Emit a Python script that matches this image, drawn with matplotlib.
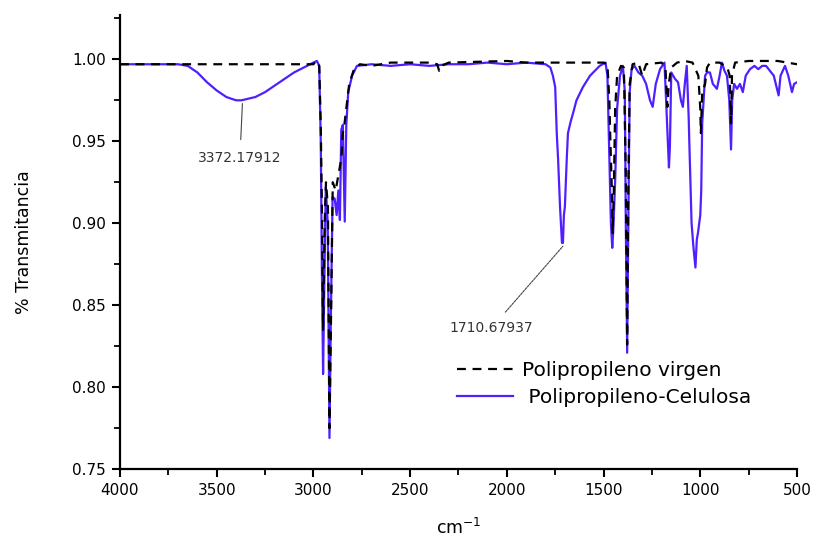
import matplotlib
matplotlib.use('Agg')
import matplotlib.pyplot as plt
from matplotlib.ticker import MultipleLocator, FormatStrFormatter

# Polipropileno-Celulosa (linea azul): numero de onda, transmitancia
wn_pc = [4000, 3700, 3650, 3600, 3550, 3500, 3450, 3400, 3372, 3300, 3250, 3200,
         3150, 3100, 3050, 3000, 2982, 2970, 2962, 2956, 2950, 2944, 2936, 2926,
         2917, 2910, 2901, 2890, 2880, 2871, 2863, 2856, 2848, 2838, 2830, 2820,
         2800, 2775, 2700, 2600, 2500, 2400, 2300, 2200, 2100, 2000, 1900, 1800,
         1775, 1762, 1750, 1742, 1735, 1725, 1715, 1710, 1705, 1700, 1690, 1684,
         1670, 1658, 1640, 1607, 1570, 1520, 1490, 1480, 1470, 1462, 1455, 1450,
         1440, 1430, 1415, 1400, 1390, 1385, 1378, 1372, 1365, 1355, 1340, 1320,
         1300, 1280, 1260, 1246, 1230, 1208, 1185, 1175, 1168, 1162, 1157, 1150,
         1130, 1115, 1100, 1090, 1080, 1070, 1060, 1057, 1045, 1035, 1025, 1018,
         1012, 1000, 995, 990, 975, 965, 950, 935, 914, 900, 888, 875, 862, 850,
         841, 835, 825, 810, 795, 780, 765, 743, 720, 700, 680, 660, 640, 620,
         603, 595, 585, 562, 545, 526, 515, 500]
t_pc = [0.997, 0.997, 0.996, 0.992, 0.986, 0.981, 0.977, 0.975, 0.975, 0.977, 0.980, 0.984,
        0.988, 0.992, 0.995, 0.998, 0.999, 0.996, 0.950, 0.870, 0.808, 0.860, 0.922, 0.900,
        0.769, 0.840, 0.916, 0.915, 0.905, 0.920, 0.902, 0.957, 0.960, 0.901, 0.960, 0.980,
        0.990, 0.996, 0.997, 0.996, 0.997, 0.996, 0.997, 0.997, 0.998, 0.997, 0.998, 0.997,
        0.995, 0.990, 0.983, 0.955, 0.939, 0.910, 0.888, 0.888, 0.905, 0.910, 0.940, 0.955,
        0.962, 0.967, 0.975, 0.983, 0.990, 0.996, 0.998, 0.990, 0.940, 0.900, 0.885, 0.895,
        0.926, 0.970, 0.990, 0.996, 0.980, 0.900, 0.821, 0.900, 0.980, 0.994, 0.996, 0.992,
        0.990, 0.985, 0.975, 0.971, 0.985, 0.994, 0.998, 0.970, 0.951, 0.934, 0.947, 0.992,
        0.988, 0.986, 0.975, 0.971, 0.985, 0.996, 0.965, 0.951, 0.900, 0.885, 0.873, 0.890,
        0.894, 0.905, 0.920, 0.961, 0.990, 0.992, 0.992, 0.985, 0.982, 0.990, 0.998, 0.993, 0.990, 0.975,
        0.945, 0.975, 0.985, 0.982, 0.985, 0.980, 0.990, 0.994, 0.996, 0.994, 0.996, 0.996, 0.993, 0.990,
        0.982, 0.978, 0.990, 0.996, 0.990, 0.980, 0.985, 0.986]

# Polipropileno virgen (linea negra discontinua)
wn_pp = [4000, 3000, 2985, 2970, 2962, 2955, 2950, 2942, 2935, 2925, 2917, 2908,
         2900, 2885, 2870, 2855, 2848, 2840, 2830, 2815, 2790, 2760, 2700, 2600,
         2400, 2360, 2350, 2340, 2300, 2000, 1900, 1500, 1480, 1470, 1465, 1457,
         1453, 1447, 1440, 1430, 1410, 1395, 1385, 1378, 1372, 1365, 1350, 1320,
         1300, 1280, 1200, 1180, 1170, 1163, 1150, 1120, 1080, 1040, 1010, 1000,
         997, 990, 975, 965, 950, 900, 860, 848, 841, 836, 820, 750, 600, 550, 500]
t_pp = [0.997, 0.997, 0.999, 0.996, 0.960, 0.900, 0.835, 0.900, 0.925, 0.910, 0.775, 0.850,
        0.925, 0.920, 0.930, 0.940, 0.955, 0.960, 0.970, 0.985, 0.994, 0.997, 0.996, 0.998,
        0.998, 0.997, 0.993, 0.996, 0.998, 0.999, 0.998, 0.998, 0.997, 0.975, 0.951, 0.920,
        0.894, 0.920, 0.970, 0.990, 0.996, 0.995, 0.930, 0.826, 0.920, 0.985, 0.997, 0.998,
        0.990, 0.997, 0.998, 0.995, 0.971, 0.985, 0.995, 0.998, 0.999, 0.998, 0.990, 0.970,
        0.955, 0.980, 0.985, 0.995, 0.998, 0.998, 0.995, 0.990, 0.961, 0.990, 0.998, 0.999, 0.999, 0.998, 0.997]

# picos anotados: (posicion del pico, texto)
pico_oh = (3372, 0.975, '3372.17912')
pico_co = (1710, 0.888, '1710.67937')

fig = plt.figure(figsize=(8.14, 5.38), dpi=100, facecolor='white')
ax = fig.add_axes([0.1474, 0.128, 0.8317, 0.844])

ax.plot(wn_pp, t_pp, color='black', lw=1.6, ls=(0, (4, 3)), label='Polipropileno virgen', zorder=3)
ax.plot(wn_pc, t_pc, color='#4f1fff', lw=1.6, label=' Polipropileno-Celulosa', zorder=2)

ax.set_xlim(4000, 500)
ax.set_ylim(0.75, 1.027)
ax.xaxis.set_major_locator(MultipleLocator(500))
ax.xaxis.set_minor_locator(MultipleLocator(250))
ax.yaxis.set_major_locator(MultipleLocator(0.05))
ax.yaxis.set_minor_locator(MultipleLocator(0.025))
ax.yaxis.set_major_formatter(FormatStrFormatter('%.2f'))

for s in ['top', 'right']:
    ax.spines[s].set_visible(False)
for s in ['left', 'bottom']:
    ax.spines[s].set_linewidth(1.6)
ax.tick_params(which='major', direction='out', length=6, width=1.5, labelsize=11, pad=4)
ax.tick_params(which='minor', direction='out', length=4, width=1.3)

ax.set_ylabel('% Transmitancia', fontsize=12.5, labelpad=28)
ax.set_xlabel('cm$^{-1}$', fontsize=12.5, labelpad=14)

# anotaciones de picos
ax.annotate(pico_oh[2], xy=(pico_oh[0] - 5, pico_oh[1] - 0.002), xytext=(3380, 0.940),
            fontsize=10, color='#333333', ha='center', va='center',
            arrowprops=dict(arrowstyle='-', color='#444444', lw=0.8, shrinkA=6, shrinkB=0))
ax.annotate(pico_co[2], xy=(pico_co[0], pico_co[1] - 0.002), xytext=(2080, 0.836),
            fontsize=10, color='#333333', ha='center', va='center',
            arrowprops=dict(arrowstyle='-', color='#444444', lw=0.8, ls=(0, (2, 1)),
                            shrinkA=6, shrinkB=0))

ax.legend(loc='lower left', bbox_to_anchor=(0.486, 0.119), frameon=False, fontsize=14.5,
          handlelength=2.8, handletextpad=0.4, labelspacing=0.4, borderaxespad=0)

plt.savefig('out.png', dpi=100, facecolor='white')
plt.close()
